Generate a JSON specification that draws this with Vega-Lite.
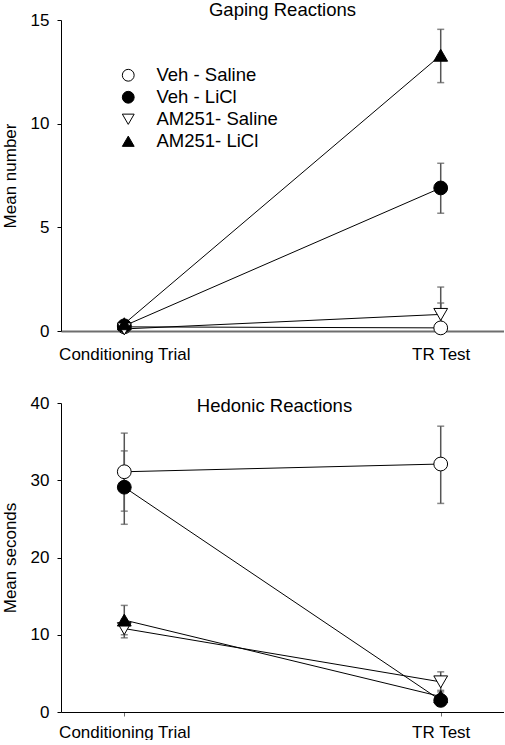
{
  "$schema": "https://vega.github.io/schema/vega-lite/v6.json",
  "padding": {"left": 1, "top": 0, "right": 0, "bottom": 0},
  "background": "white",
  "spacing": 32,
  "config": {
    "font": "Liberation Sans",
    "view": {"stroke": null},
    "axis": {"grid": false, "labelFont": "Liberation Sans", "titleFont": "Liberation Sans", "labelFontSize": 17, "titleFontSize": 17, "titleFontWeight": "normal", "labelColor": "black", "titleColor": "black", "domainColor": "black", "tickColor": "black"},
    "title": {"font": "Liberation Sans", "fontSize": 18.5, "fontWeight": "normal", "color": "black"}
  },
  "datasets": {
    "gaping": [
      {"group": "Veh - Saline", "phase": "Conditioning Trial", "mean": 0.2, "lo": null, "hi": null},
      {"group": "Veh - Saline", "phase": "TR Test", "mean": 0.15, "lo": 0, "hi": 1.35},
      {"group": "Veh - LiCl", "phase": "Conditioning Trial", "mean": 0.25, "lo": null, "hi": null},
      {"group": "Veh - LiCl", "phase": "TR Test", "mean": 6.9, "lo": 5.68, "hi": 8.09},
      {"group": "AM251- Saline", "phase": "Conditioning Trial", "mean": 0.1, "lo": null, "hi": null},
      {"group": "AM251- Saline", "phase": "TR Test", "mean": 0.8, "lo": 0, "hi": 2.12},
      {"group": "AM251- LiCl", "phase": "Conditioning Trial", "mean": 0.35, "lo": null, "hi": null},
      {"group": "AM251- LiCl", "phase": "TR Test", "mean": 13.3, "lo": 11.98, "hi": 14.55}
    ],
    "hedonic": [
      {"group": "Veh - Saline", "phase": "Conditioning Trial", "mean": 31.1, "lo": 26.0, "hi": 36.1},
      {"group": "Veh - Saline", "phase": "TR Test", "mean": 32.1, "lo": 27.0, "hi": 37.0},
      {"group": "Veh - LiCl", "phase": "Conditioning Trial", "mean": 29.1, "lo": 24.3, "hi": 33.8},
      {"group": "Veh - LiCl", "phase": "TR Test", "mean": 1.5, "lo": 0.8, "hi": 2.2},
      {"group": "AM251- Saline", "phase": "Conditioning Trial", "mean": 10.8, "lo": 9.6, "hi": 12.0},
      {"group": "AM251- Saline", "phase": "TR Test", "mean": 3.9, "lo": 2.6, "hi": 5.2},
      {"group": "AM251- LiCl", "phase": "Conditioning Trial", "mean": 11.9, "lo": 10.0, "hi": 13.8},
      {"group": "AM251- LiCl", "phase": "TR Test", "mean": 2.0, "lo": 1.2, "hi": 2.8}
    ]
  },
  "resolve": {"scale": {"shape": "independent", "fill": "independent", "stroke": "independent"}, "legend": {"shape": "independent", "fill": "independent", "stroke": "independent"}},
  "vconcat": [
    {
      "width": 443,
      "height": 311,
      "title": {"text": "Gaping Reactions", "offset": -8},
      "data": {"name": "gaping"},
      "encoding": {
        "x": {"field": "phase", "type": "nominal", "sort": ["Conditioning Trial", "TR Test"], "scale": {"type": "point", "padding": 0.2}, "axis": {"title": null, "labelAngle": 0, "ticks": false, "labelPadding": 15, "domainColor": "#6e6e6e", "domainWidth": 2}}
      },
      "layer": [
        {
          "mark": {"type": "rule", "color": "#555555", "strokeWidth": 1.5},
          "encoding": {"y": {"field": "lo", "type": "quantitative"}, "y2": {"field": "hi"}}
        },
        {
          "mark": {"type": "tick", "orient": "horizontal", "color": "#555555", "thickness": 1.5, "size": 7},
          "encoding": {"y": {"field": "lo", "type": "quantitative"}}
        },
        {
          "mark": {"type": "tick", "orient": "horizontal", "color": "#555555", "thickness": 1.5, "size": 7},
          "encoding": {"y": {"field": "hi", "type": "quantitative"}}
        },
        {
          "mark": {"type": "line", "color": "black", "strokeWidth": 1},
          "encoding": {"y": {"field": "mean", "type": "quantitative"}, "detail": {"field": "group"}}
        },
        {
          "mark": {"type": "point", "strokeWidth": 1, "opacity": 1, "filled": true, "size": 190},
          "encoding": {
            "y": {"field": "mean", "type": "quantitative", "scale": {"domain": [0, 15], "nice": false}, "axis": {"title": "Mean number", "values": [0, 5, 10, 15], "tickSize": 4, "labelPadding": 8, "titlePadding": 11}},
            "shape": {"field": "group", "type": "nominal", "scale": {"domain": ["Veh - Saline", "Veh - LiCl", "AM251- Saline", "AM251- LiCl"], "range": ["circle", "circle", "triangle-down", "triangle-up"]}, "legend": {"title": null, "orient": "none", "legendX": 58, "legendY": 46, "symbolSize": 140, "labelFontSize": 18.5, "labelFont": "Liberation Sans", "labelColor": "black", "rowPadding": 3, "labelOffset": 19, "padding": 0, "symbolStrokeWidth": 1}},
            "fill": {"field": "group", "type": "nominal", "scale": {"domain": ["Veh - Saline", "Veh - LiCl", "AM251- Saline", "AM251- LiCl"], "range": ["white", "black", "white", "black"]}, "legend": {"title": null, "orient": "none", "legendX": 58, "legendY": 46, "symbolSize": 140, "labelFontSize": 18.5, "labelFont": "Liberation Sans", "labelColor": "black", "rowPadding": 3, "labelOffset": 19, "padding": 0, "symbolStrokeWidth": 1}},
            "stroke": {"field": "group", "type": "nominal", "scale": {"domain": ["Veh - Saline", "Veh - LiCl", "AM251- Saline", "AM251- LiCl"], "range": ["black", "black", "black", "black"]}, "legend": {"title": null, "orient": "none", "legendX": 58, "legendY": 46, "symbolSize": 140, "labelFontSize": 18.5, "labelFont": "Liberation Sans", "labelColor": "black", "rowPadding": 3, "labelOffset": 19, "padding": 0, "symbolStrokeWidth": 1}}
          }
        }
      ]
    },
    {
      "width": 443,
      "height": 309,
      "title": {"text": "Hedonic Reactions", "offset": -21, "dx": -8},
      "data": {"name": "hedonic"},
      "encoding": {
        "x": {"field": "phase", "type": "nominal", "sort": ["Conditioning Trial", "TR Test"], "scale": {"type": "point", "padding": 0.2}, "axis": {"title": null, "labelAngle": 0, "tickSize": 4, "tickColor": "#6e6e6e", "labelPadding": 8}}
      },
      "layer": [
        {
          "mark": {"type": "rule", "color": "#555555", "strokeWidth": 1.5},
          "encoding": {"y": {"field": "lo", "type": "quantitative"}, "y2": {"field": "hi"}}
        },
        {
          "mark": {"type": "tick", "orient": "horizontal", "color": "#555555", "thickness": 1.5, "size": 7},
          "encoding": {"y": {"field": "lo", "type": "quantitative"}}
        },
        {
          "mark": {"type": "tick", "orient": "horizontal", "color": "#555555", "thickness": 1.5, "size": 7},
          "encoding": {"y": {"field": "hi", "type": "quantitative"}}
        },
        {
          "mark": {"type": "line", "color": "black", "strokeWidth": 1},
          "encoding": {"y": {"field": "mean", "type": "quantitative"}, "detail": {"field": "group"}}
        },
        {
          "mark": {"type": "point", "strokeWidth": 1, "opacity": 1, "filled": true, "size": 190},
          "encoding": {
            "y": {"field": "mean", "type": "quantitative", "scale": {"domain": [0, 40], "nice": false}, "axis": {"title": "Mean  seconds", "values": [0, 10, 20, 30, 40], "tickSize": 4, "labelPadding": 8, "titlePadding": 11}},
            "shape": {"field": "group", "type": "nominal", "scale": {"domain": ["Veh - Saline", "Veh - LiCl", "AM251- Saline", "AM251- LiCl"], "range": ["circle", "circle", "triangle-down", "triangle-up"]}, "legend": null},
            "fill": {"field": "group", "type": "nominal", "scale": {"domain": ["Veh - Saline", "Veh - LiCl", "AM251- Saline", "AM251- LiCl"], "range": ["white", "black", "white", "black"]}, "legend": null},
            "stroke": {"field": "group", "type": "nominal", "scale": {"domain": ["Veh - Saline", "Veh - LiCl", "AM251- Saline", "AM251- LiCl"], "range": ["black", "black", "black", "black"]}, "legend": null}
          }
        }
      ]
    }
  ]
}
